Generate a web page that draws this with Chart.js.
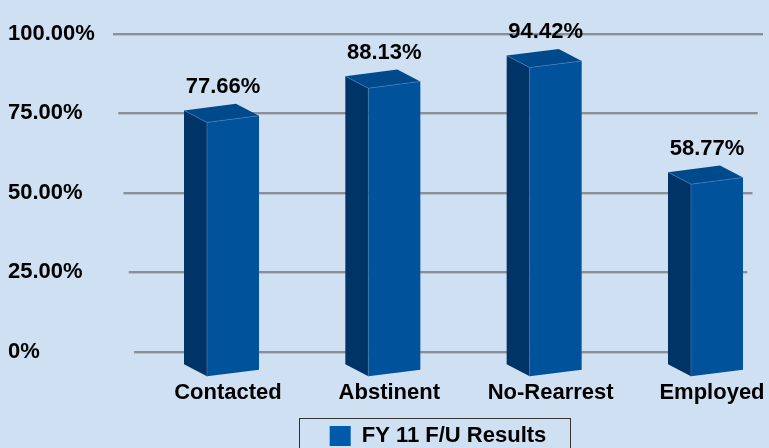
<!DOCTYPE html>
<html><head><meta charset="utf-8">
<script src="https://cdn.jsdelivr.net/npm/chart.js@4.4.1/dist/chart.umd.min.js"></script>
<style>html,body{margin:0;padding:0;background:#cfe0f2;} canvas{display:block;}</style>
</head><body>
<canvas id="c" width="769" height="448"></canvas>
<script>
const categories = ['Contacted', 'Abstinent', 'No-Rearrest', 'Employed'];
const seriesName = 'FY 11 F/U Results';
const values = [77.66, 88.13, 94.42, 58.77];
const tickValues = [0, 25, 50, 75, 100];
const tickLabels = ['0%', '25.00%', '50.00%', '75.00%', '100.00%'];

const FONT = "'Liberation Sans', Arial, sans-serif";

function poly(ctx, pts, fill) {
  ctx.beginPath();
  ctx.moveTo(pts[0][0], pts[0][1]);
  for (let i = 1; i < pts.length; i++) ctx.lineTo(pts[i][0], pts[i][1]);
  ctx.closePath();
  ctx.fillStyle = fill;
  ctx.fill();
}

const bar3d = {
  id: 'bar3d',
  beforeDatasetsDraw(chart) {
    const ys = chart.scales.y, a = chart.chartArea, ctx = chart.ctx;
    ctx.save();
    tickValues.forEach(v => {
      const py = Math.round(ys.getPixelForValue(v));
      const k = 21 * v / 100;
      ctx.fillStyle = '#8a9098';
      ctx.fillRect(a.left - k, py - 1, a.right - a.left + 2 * k, 2);
      ctx.fillStyle = '#b3c0ce';
      ctx.fillRect(a.left - k, py + 1, a.right - a.left + 2 * k, 1);
    });
    ctx.restore();
  },
  beforeDatasetDraw() { return false; },
  afterDatasetsDraw(chart) {
    const ctx = chart.ctx, meta = chart.getDatasetMeta(0);
    ctx.save();
    meta.data.forEach((el, i) => {
      const w = el.width, cx = el.x + 5, xl = cx - w / 2, xr = cx + w / 2;
      const s = 3.35, dx = -23, dy = -12;
      const tl = [xl, el.y + s], tr = [xr, el.y - s], br = [xr, el.base - s], bl = [xl, el.base + s];
      const tlb = [tl[0] + dx, tl[1] + dy], trb = [tr[0] + dx, tr[1] + dy], blb = [bl[0] + dx, bl[1] + dy];
      poly(ctx, [tl, tlb, blb, bl], '#003466');
      poly(ctx, [tl, tr, trb, tlb], '#004a8c');
      poly(ctx, [tl, tr, br, bl], '#00529b');
      ctx.strokeStyle = 'rgba(70,125,190,0.8)';
      ctx.lineWidth = 0.8;
      ctx.beginPath();
      ctx.moveTo(tlb[0], tlb[1]); ctx.lineTo(tl[0], tl[1]); ctx.lineTo(tr[0], tr[1]);
      ctx.moveTo(tl[0], tl[1]); ctx.lineTo(bl[0], bl[1]);
      ctx.stroke();
      ctx.fillStyle = '#000';
      ctx.font = 'bold 22px ' + FONT;
      ctx.textAlign = 'center';
      ctx.textBaseline = 'middle';
      ctx.fillText(values[i].toFixed(2) + '%', el.x - 5, el.y - 32);
    });
    ctx.restore();
  },
  afterDraw(chart) {
    const hb = chart.legend && chart.legend.legendHitBoxes && chart.legend.legendHitBoxes[0];
    if (!hb) return;
    const ctx = chart.ctx;
    ctx.save();
    ctx.strokeStyle = '#333333';
    ctx.lineWidth = 1;
    const x0 = Math.round(hb.left - 31) + 0.5, y0 = Math.round(hb.top - 7.5) + 0.5;
    const x1 = Math.round(hb.left + hb.width + 24) + 0.5;
    ctx.strokeRect(x0, y0, x1 - x0, 80);
    ctx.restore();
  }
};

Chart.defaults.font.family = FONT;
Chart.defaults.font.weight = 'bold';
Chart.defaults.font.size = 22;
Chart.defaults.color = '#000';

new Chart(document.getElementById('c'), {
  type: 'bar',
  data: {
    datasets: [{
      label: seriesName,
      data: values.map((v, i) => ({ x: i, y: v })),
      backgroundColor: '#005aab',
      borderWidth: 0,
      barThickness: 52,
      yAxisID: 'yb',
      clip: false
    }]
  },
  plugins: [bar3d],
  options: {
    responsive: false,
    animation: false,
    layout: { padding: { left: 8, right: 27, top: 20, bottom: -9 } },
    plugins: {
      legend: {
        position: 'bottom',
        fullSize: false,
        labels: { boxWidth: 21, boxHeight: 20, padding: 16.6, font: { size: 22, weight: 'bold' }, color: '#000' }
      },
      tooltip: { enabled: false }
    },
    scales: {
      x: {
        type: 'linear',
        offset: false,
        min: -0.5827,
        max: 3.186,
        grid: { display: false, drawTicks: false, offset: false },
        border: { display: false },
        afterBuildTicks: (scale) => { scale.ticks = categories.map((c, i) => ({ value: i })); },
        ticks: {
          autoSkip: false, maxRotation: 0, minRotation: 0, padding: 2,
          font: { size: 22, weight: 'bold' }, color: '#000',
          callback: (v) => categories[v]
        }
      },
      y: {
        type: 'linear',
        position: 'left',
        min: -8.30,
        max: 104.28,
        grid: { display: false, drawTicks: false },
        border: { display: false },
        afterBuildTicks: (scale) => { scale.ticks = tickValues.map(v => ({ value: v })); },
        afterFit: (scale) => { scale.width = 126; },
        ticks: {
          crossAlign: 'far', padding: 4,
          font: { size: 22, weight: 'bold' }, color: '#000',
          callback: (v) => tickLabels[tickValues.indexOf(v)]
        }
      },
      yb: {
        type: 'linear',
        display: false,
        min: -1.53,
        max: 107.95
      }
    }
  }
});
</script>
</body></html>
